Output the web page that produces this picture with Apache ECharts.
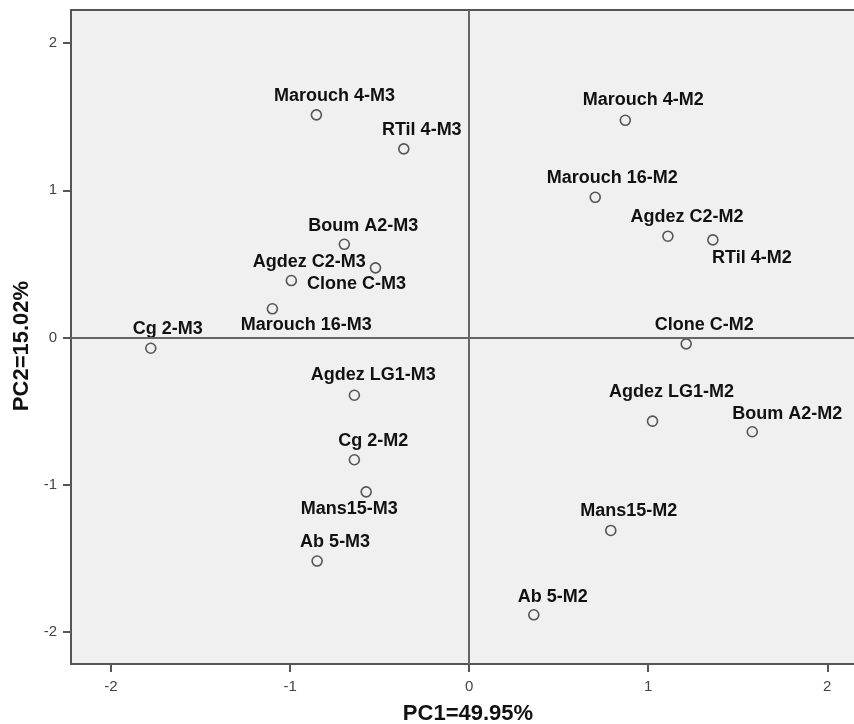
<!DOCTYPE html>
<html>
<head>
<meta charset="utf-8">
<script src="https://cdn.jsdelivr.net/npm/echarts@6/dist/echarts.min.js"></script>
<style>html,body{margin:0;padding:0;background:#fff;}#c{width:854px;height:724px;}</style>
</head>
<body>
<div id="c"></div>
<script>
// ---- data ----
const names = ["Marouch 4-M3","RTil 4-M3","Boum A2-M3","Clone C-M3","Agdez C2-M3","Marouch 16-M3","Cg 2-M3",
  "Agdez LG1-M3","Cg 2-M2","Mans15-M3","Ab 5-M3",
  "Marouch 4-M2","Marouch 16-M2","Agdez C2-M2","RTil 4-M2","Clone C-M2","Agdez LG1-M2","Boum A2-M2","Mans15-M2","Ab 5-M2"];
const pc1 = [-0.853,-0.365,-0.697,-0.523,-0.993,-1.099,-1.778,
  -0.641,-0.641,-0.575,-0.849,
  0.872,0.704,1.110,1.361,1.212,1.024,1.581,0.791,0.361];
const pc2 = [1.512,1.281,0.633,0.473,0.387,0.195,-0.073,
  -0.392,-0.830,-1.048,-1.518,
  1.475,0.952,0.688,0.663,-0.043,-0.568,-0.640,-1.310,-1.883];
const tickValues = [-2,-1,0,1,2];
const xTitle = "PC1=49.95%";
const yTitle = "PC2=15.02%";

// ---- label layout (pixels, relative to each point) ----
const labelOffset = [[18,-19],[18,-19],[19,-18],[-19,16],[18,-18],[34,16],[17,-19],
  [19,-20],[19,-19],[-17,17],[18,-19],
  [18,-20],[17,-19],[19,-19],[39,18],[18,-19],[19,-29],[35,-18],[18,-19],[19,-18]];

const data = names.map((n,i)=>({
  name:n, value:[pc1[i],pc2[i]],
  label:{offset:labelOffset[i]}
}));

const font = "'Liberation Sans', Arial, sans-serif";
const chart = echarts.init(document.getElementById('c'), null, {renderer:'canvas'});
chart.setOption({
  backgroundColor:'#ffffff',
  animation:false,
  grid:{left:71, top:10, width:810, height:654, outerBoundsMode:'none', containLabel:false,
        show:true, backgroundColor:'#f0f0f0', borderColor:'#555', borderWidth:2},
  xAxis:{
    type:'value', min:-2.2235, max:2.3,
    name:xTitle, nameLocation:'middle', nameGap:39,
    nameTextStyle:{fontFamily:font, fontWeight:'bold', fontSize:22, color:'#111', padding:[0,16,0,0]},
    axisLine:{show:false, onZero:false},
    axisTick:{show:true, length:8, customValues:tickValues, lineStyle:{color:'#555', width:2}},
    axisLabel:{customValues:tickValues, fontFamily:font, fontSize:15, color:'#444', margin:15},
    splitLine:{show:false}
  },
  yAxis:{
    type:'value', min:-2.217, max:2.224,
    name:yTitle, nameLocation:'middle', nameGap:37,
    nameTextStyle:{fontFamily:font, fontWeight:'bold', fontSize:22, color:'#111', padding:[0,18,0,0]},
    axisLine:{show:false, onZero:false},
    axisTick:{show:true, length:8, customValues:tickValues, lineStyle:{color:'#555', width:2}},
    axisLabel:{customValues:tickValues, fontFamily:font, fontSize:15, color:'#444', margin:14},
    splitLine:{show:false}
  },
  series:[{
    type:'scatter',
    data:data,
    symbol:'circle', symbolSize:10,
    itemStyle:{color:'#f0f0f0', borderColor:'#555', borderWidth:1.6, opacity:1},
    label:{show:true, position:'inside', formatter:'{b}', fontFamily:font, fontWeight:'bold', fontSize:18, color:'#111'},
    markLine:{
      silent:true, symbol:['none','none'], animation:false,
      label:{show:false},
      lineStyle:{color:'#666', width:2, type:'solid'},
      data:[{xAxis:0},{yAxis:0}]
    },
    z:3
  }]
});
</script>
</body>
</html>
